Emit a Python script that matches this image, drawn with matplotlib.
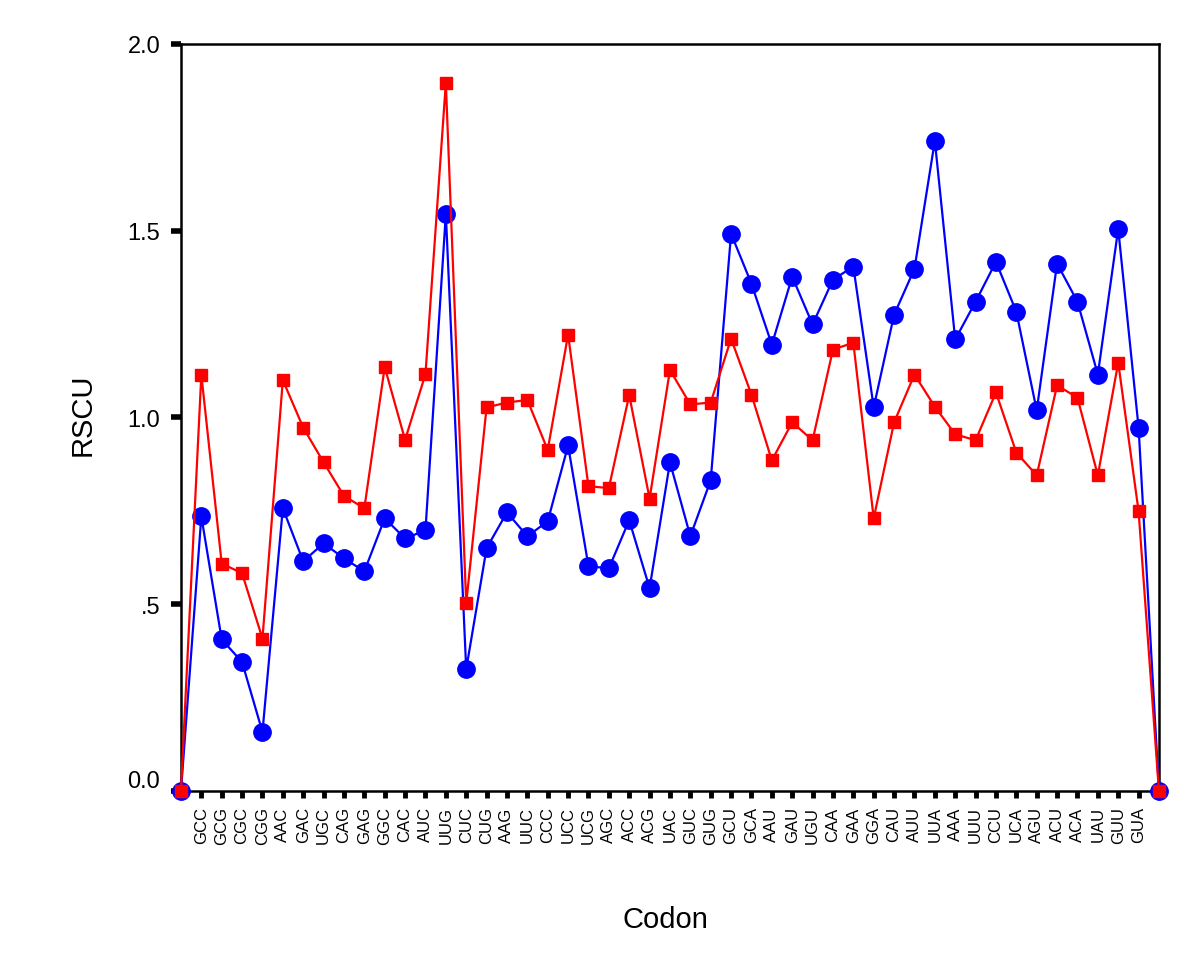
import matplotlib
matplotlib.use('Agg')
import matplotlib.pyplot as plt
from matplotlib.transforms import ScaledTranslation

plt.rcParams['font.family'] = ['Liberation Sans', 'DejaVu Sans']

codons = ['GCC', 'GCG', 'CGC', 'CGG', 'AAC', 'GAC', 'UGC', 'CAG', 'GAG', 'GGC',
          'CAC', 'AUC', 'UUG', 'CUC', 'CUG', 'AAG', 'UUC', 'CCC', 'UCC', 'UCG',
          'AGC', 'ACC', 'ACG', 'UAC', 'GUC', 'GUG', 'GCU', 'GCA', 'AAU', 'GAU',
          'UGU', 'CAA', 'GAA', 'GGA', 'CAU', 'AUU', 'UUA', 'AAA', 'UUU', 'CCU',
          'UCA', 'AGU', 'ACU', 'ACA', 'UAU', 'GUU', 'GUA']

# first and last values are the empty end points of the series
red = [0.0,
       1.115, 0.609, 0.583, 0.408, 1.100, 0.973, 0.880, 0.790, 0.757, 1.135,
       0.940, 1.116, 1.896, 0.502, 1.027, 1.040, 1.047, 0.913, 1.222, 0.816,
       0.811, 1.060, 0.783, 1.127, 1.035, 1.040, 1.211, 1.061, 0.885, 0.987,
       0.939, 1.182, 1.200, 0.730, 0.987, 1.115, 1.029, 0.955, 0.939, 1.067,
       0.906, 0.845, 1.086, 1.053, 0.845, 1.147, 0.749,
       0.0]
blue = [0.0,
        0.735, 0.406, 0.345, 0.158, 0.757, 0.615, 0.663, 0.623, 0.588, 0.730,
        0.676, 0.698, 1.545, 0.326, 0.650, 0.746, 0.682, 0.722, 0.925, 0.602,
        0.596, 0.725, 0.543, 0.880, 0.682, 0.832, 1.492, 1.358, 1.195, 1.377,
        1.249, 1.369, 1.404, 1.027, 1.275, 1.398, 1.741, 1.209, 1.310, 1.417,
        1.283, 1.019, 1.412, 1.310, 1.115, 1.505, 0.973,
        0.0]

yticks = [0.0, 0.5, 1.0, 1.5, 2.0]
ytick_labels = ['0.0', '.5', '1.0', '1.5', '2.0']

x = list(range(len(red)))

fig = plt.figure(figsize=(12, 9.78), dpi=100)
ax = fig.add_axes([0.1508, 0.1902, 0.815, 0.7638])

ax.plot(x, blue, color='#0000ff', lw=1.6, marker='o', ms=12.5,
        mec='#0000ff', clip_on=False, zorder=3)
ax.plot(x, red, color='#ff0000', lw=1.6, marker='s', ms=8.5,
        mec='#ff0000', clip_on=False, zorder=4)

ax.set_xlim(0, len(red) - 1)
ax.set_ylim(0, 2.0)

ax.set_xticks(range(1, len(codons) + 1))
ax.set_xticklabels(codons, rotation=90)
ax.set_yticks(yticks)
ax.set_yticklabels(ytick_labels)

for s in ax.spines.values():
    s.set_linewidth(1.8)
    s.set_color('black')

ax.tick_params(axis='y', direction='out', length=7, width=4, pad=8,
               labelsize=17)
ax.tick_params(axis='x', direction='out', length=5, width=3.5, pad=6,
               labelsize=12)

# SPSS puts the 0.0 label a bit above the axis line
lbl = ax.get_yticklabels()[0]
lbl.set_transform(lbl.get_transform() +
                  ScaledTranslation(0, 0.12, fig.dpi_scale_trans))

ax.set_ylabel('RSCU', fontsize=21)
ax.set_xlabel('Codon', fontsize=21)
ax.yaxis.set_label_coords(-0.086, 0.505)
ax.xaxis.set_label_coords(0.495, -0.152)

fig.savefig('out.png', dpi=100)
